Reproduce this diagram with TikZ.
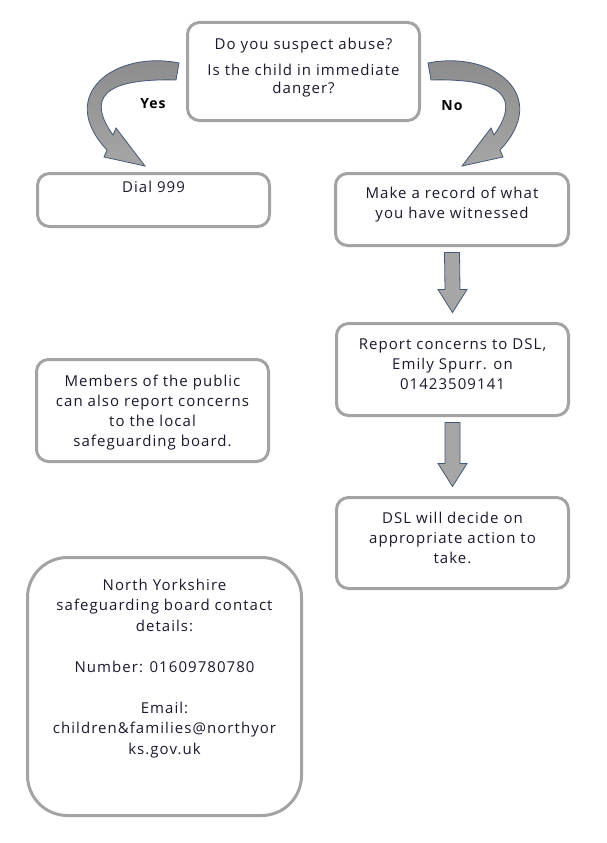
\documentclass[tikz,border=0pt]{standalone}
\usepackage{fontspec}
\setmainfont{Open Sans}[LetterSpace=7]
\usetikzlibrary{positioning,calc}
\definecolor{boxgray}{RGB}{163,163,163}
\definecolor{arrowfill}{RGB}{166,166,166}
\definecolor{arrowtop}{RGB}{138,138,138}
\definecolor{arrowline}{RGB}{68,88,122}
\definecolor{inkdark}{RGB}{25,25,45}
\tikzset{
  flowbox/.style={draw=boxgray, line width=3pt, rounded corners=12pt, anchor=north west, inner sep=0pt, outer sep=0pt},
  flowtext/.style={text=inkdark, align=center, inner sep=0pt, font=\fontsize{15}{20}\selectfont},
  blockarrow/.style={fill=arrowfill, draw=arrowline, line width=0.8pt, line join=miter},
  curvearrow/.style={top color=arrowtop, bottom color=arrowfill, draw=arrowline, line width=0.8pt},
  answer/.style={font=\fontsize{14}{16}\selectfont\bfseries, inner sep=0pt}
}

\begin{document}
\begin{tikzpicture}[x=1pt,y=-1pt]
\useasboundingbox (0,0) rectangle (607,843);

% boxes
\node[flowbox, minimum width=232pt, minimum height=98pt] (question) at (187.5,22.5) {};
\node[flowbox, minimum width=232pt, minimum height=53pt] (dial) at (37.5,173.5) {};
\node[flowbox, minimum width=233pt, minimum height=72pt] (record) at (335.5,173.5) {};
\node[flowbox, minimum width=232pt, minimum height=92pt] (report) at (336.5,323.5) {};
\node[flowbox, minimum width=232pt, minimum height=102pt] (public) at (36.5,359.5) {};
\node[flowbox, minimum width=232pt, minimum height=91pt] (dsl) at (336.5,497.5) {};
\node[flowbox, minimum width=274pt, minimum height=258pt, rounded corners=40pt] (contact) at (27.5,557.5) {};

% texts
\node[flowtext, font=\fontsize{15}{18}\selectfont, below=15pt of question.north] (questiontext)
  {Do you suspect abuse?\\[8pt]Is the child in immediate\\danger?};
\node[flowtext, below=7pt of dial.north] (dialtext) {Dial 999};
\node[flowtext, below=13pt of record.north] (recordtext) {Make a record of what\\you have witnessed};
\node[flowtext, below=15pt of report.north] (reporttext) {Report concerns to DSL,\\Emily Spurr. on\\01423509141};
\node[flowtext, below=15pt of public.north] (publictext)
  {Members of the public\\can also report concerns\\to the local\\safeguarding board.};
\node[flowtext, below=14pt of dsl.north] (dsltext) {DSL will decide on\\appropriate action to\\take.};
\node[flowtext, font=\fontsize{15}{20.5}\selectfont, below=21pt of contact.north] (contacttext)
  {North Yorkshire\\safeguarding board contact\\details:\\[20.5pt]Number: 01609780780\\[20.5pt]Email:\\children\&families@northyor\\ks.gov.uk};

% curved arrows
\begin{scope}
\draw[curvearrow] (179,63) .. controls (115,50) and (55,95) .. (107,150) -- (104,157) -- (145,166)
  -- (116,128) -- (113,135) .. controls (88,100) and (100,78) .. (176,80) -- cycle;
\end{scope}

\begin{scope}[xshift=607pt, xscale=-1]
\draw[curvearrow] (179,63) .. controls (115,50) and (55,95) .. (107,150) -- (104,157) -- (145,166)
  -- (116,128) -- (113,135) .. controls (88,100) and (100,78) .. (176,80) -- cycle;
\end{scope}

\node[answer] (yes) at (153,104) {Yes};
\node[answer] (no) at (452,106) {No};

% down arrows
\foreach \a/\b in {record/report, report/dsl}
  \draw[blockarrow] ($(\a.south)+(-7.5,7)$) -- ($(\a.south)+(7.5,7)$) -- ($(\b.north)+(7.5,-34)$)
    -- ($(\b.north)+(14.5,-34)$) -- ($(\b.north)+(0,-11)$) -- ($(\b.north)+(-14.5,-34)$)
    -- ($(\b.north)+(-7.5,-34)$) -- cycle;

\end{tikzpicture}
\end{document}
